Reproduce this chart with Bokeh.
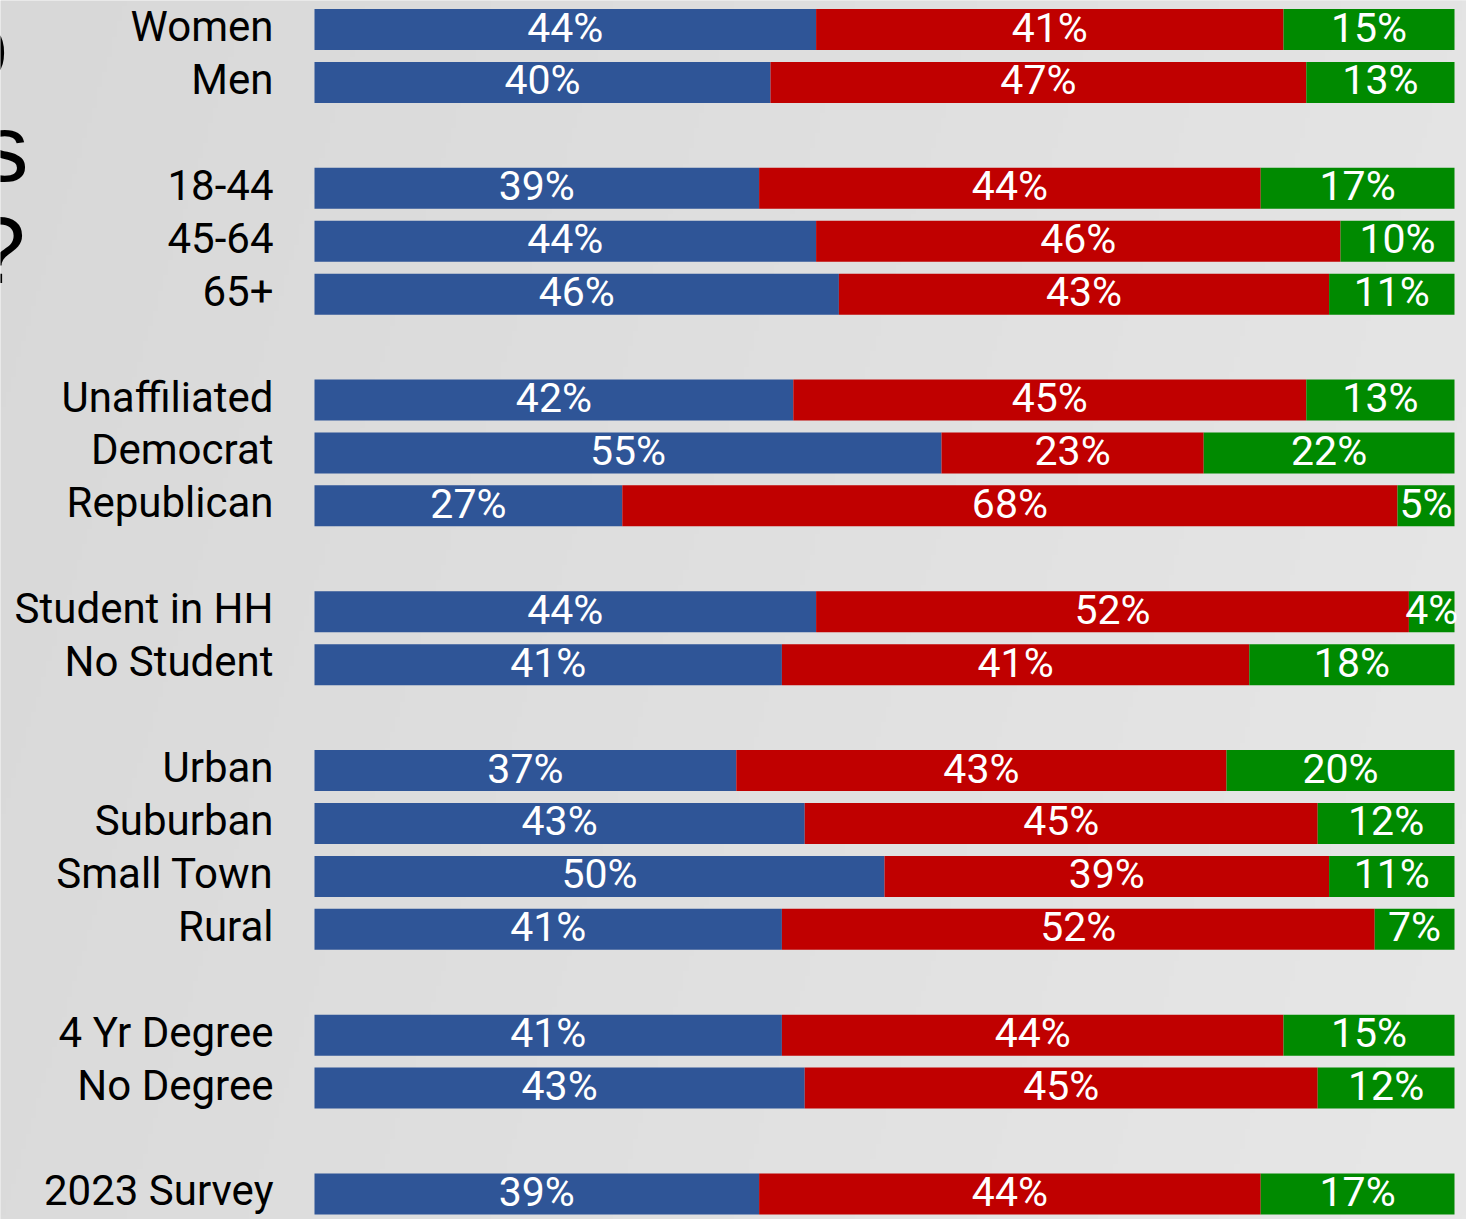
import numpy as np
from bokeh.plotting import figure
from bokeh.models import ColumnDataSource, Range1d
from bokeh.core.properties import value
from bokeh.embed import file_html
from bokeh.resources import INLINE

# ---- data -------------------------------------------------------------
groups = [
    ["Women", "Men"],
    ["18-44", "45-64", "65+"],
    ["Unaffiliated", "Democrat", "Republican"],
    ["Student in HH", "No Student"],
    ["Urban", "Suburban", "Small Town", "Rural"],
    ["4 Yr Degree", "No Degree"],
    ["2023 Survey"],
]
series = ["Yes", "No", "Not sure"]
yes_vals = [44, 40, 39, 44, 46, 42, 55, 27, 44, 41, 37, 43, 50, 41, 41, 43, 39]
no_vals = [41, 47, 44, 46, 43, 45, 23, 68, 52, 41, 43, 45, 39, 52, 44, 45, 44]
unsure_vals = [15, 13, 17, 10, 11, 13, 22, 5, 4, 18, 20, 12, 11, 7, 15, 12, 17]
title_fragments = ["o", "s", "?"]

colors = ["#2f5597", "#c00000", "#008a00"]

# ---- layout helpers ---------------------------------------------------
W, H = 1466, 1219
PX_PER_PCT = 11.4
BAR_LEFT = 314.0          # canvas px where 0 % sits
PITCH = 52.93             # px per row slot
FIRST_ROW = 29.0          # canvas px of first row centre

cats, rows = [], []
slot = 0
for g in groups:
    for c in g:
        cats.append(c)
        rows.append(slot)
        slot += 1
    slot += 1  # empty slot between groups

x0 = -BAR_LEFT / PX_PER_PCT
x1 = (W - BAR_LEFT) / PX_PER_PCT
y_top = -FIRST_ROW / PITCH
y_bot = (H - FIRST_ROW) / PITCH

def cx(px):
    return (px - BAR_LEFT) / PX_PER_PCT

def cy(py):
    return (py - FIRST_ROW) / PITCH

p = figure(width=W, height=H, x_range=Range1d(x0, x1), y_range=Range1d(y_bot, y_top),
           min_border=0, toolbar_location=None, output_backend="svg",
           x_axis_location=None, y_axis_location=None, outline_line_color=None,
           background_fill_color="#dfdfdf", border_fill_color="#dfdfdf")
p.grid.visible = False

# background gradient (decoration)
gw, gh = 290, 240
gx = np.linspace(0, 1, gw)[None, :]
gy = np.linspace(0, 1, gh)[:, None]
lum = (216 + 12 * gx + 3 * gy).astype(np.uint32)
img = np.empty((gh, gw), dtype=np.uint32)
view = img.view(dtype=np.uint8).reshape((gh, gw, 4))
view[:, :, 0] = lum
view[:, :, 1] = lum
view[:, :, 2] = lum
view[:, :, 3] = 255
p.image_rgba(image=[img], x=x0, y=y_top, dw=x1 - x0, dh=y_bot - y_top)

src = ColumnDataSource(dict(cat=cats, y=rows, Yes=yes_vals, No=no_vals, **{"Not sure": unsure_vals}))
p.hbar_stack(series, y="y", height=41 / PITCH, color=colors, line_color=None, source=src)

# value labels centred in each segment
lx, ly, lt = [], [], []
for i in range(len(cats)):
    left = 0
    for v in (yes_vals[i], no_vals[i], unsure_vals[i]):
        lx.append(left + v / 2)
        ly.append(rows[i] - 2 / PITCH)
        lt.append(f"{v}%")
        left += v
p.text(x=lx, y=ly, text=lt, text_color="white", text_align="center", text_baseline="middle",
       text_font=value("Roboto"), text_font_size="41px")

# category labels
p.text(x=[cx(273)] * len(cats), y=[r - 3 / PITCH for r in rows], text=cats,
       text_color="#000000", text_align="right", text_baseline="middle",
       text_font=value("Roboto"), text_font_size="42px")

# cut-off title fragments at the left edge (title text lies mostly off-canvas)
p.text(x=[cx(7.5), cx(28), cx(25)], y=[cy(44), cy(147), cy(249)], text=title_fragments,
       text_color="#000000", text_align="right", text_baseline="alphabetic",
       text_font=value("Liberation Sans"), text_font_size="95px")

open("out.html", "w").write(file_html(p, INLINE))
